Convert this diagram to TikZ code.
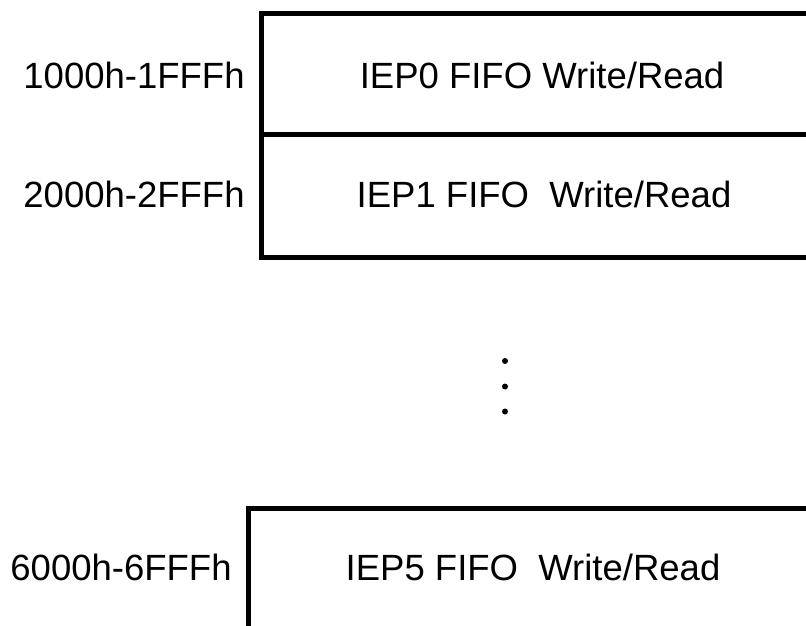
\documentclass[tikz,border=0pt]{standalone}
\usepackage{fontspec}
\setmainfont{Liberation Sans}
\begin{document}
\begin{tikzpicture}[x=1pt,y=-1pt,
  wall/.style={line width=5pt,line join=miter},
  lbl/.style={font=\fontsize{36.5}{40}\selectfont,inner sep=0pt,anchor=center},
  dot/.style={circle,fill=black,inner sep=0pt,minimum size=6pt}]
\useasboundingbox (0,0) rectangle (806,626);
\begin{scope}
\clip (0,0) rectangle (806,626);
% top box
\coordinate (tr) at (812,14);
\coordinate (tl) at (261.5,14);
\coordinate (bl) at (261.5,257.5);
\coordinate (br) at (812,257.5);
\draw[wall] (tr) -- (tl) -- (bl) -- (br);
\coordinate (ml) at (261.5,134.5);
\coordinate (mr) at (812,134.5);
\draw[wall] (ml) -- (mr);
% bottom box
\coordinate (b5r) at (812,508.5);
\coordinate (b5l) at (248.5,508.5);
\coordinate (b5b) at (248.5,632);
\draw[wall] (b5r) -- (b5l) -- (b5b);
\end{scope}
% labels
\node[lbl] (a0) at (134,75) {1000h-1FFFh};
\node[lbl] (a1) at (134,194) {2000h-2FFFh};
\node[lbl] (a5) at (121,567) {6000h-6FFFh};
\node[lbl] (e0) at (542,75) {IEP0 FIFO Write/Read};
\node[lbl] (e1) at (544,194) {IEP1 FIFO\ \ Write/Read};
\node[lbl] (e5) at (533,567) {IEP5 FIFO\ \ Write/Read};
% dots
\node[dot] (d1) at (505,361) {};
\node[dot] (d2) at (505,386.5) {};
\node[dot] (d3) at (505,411.5) {};
\end{tikzpicture}
\end{document}
